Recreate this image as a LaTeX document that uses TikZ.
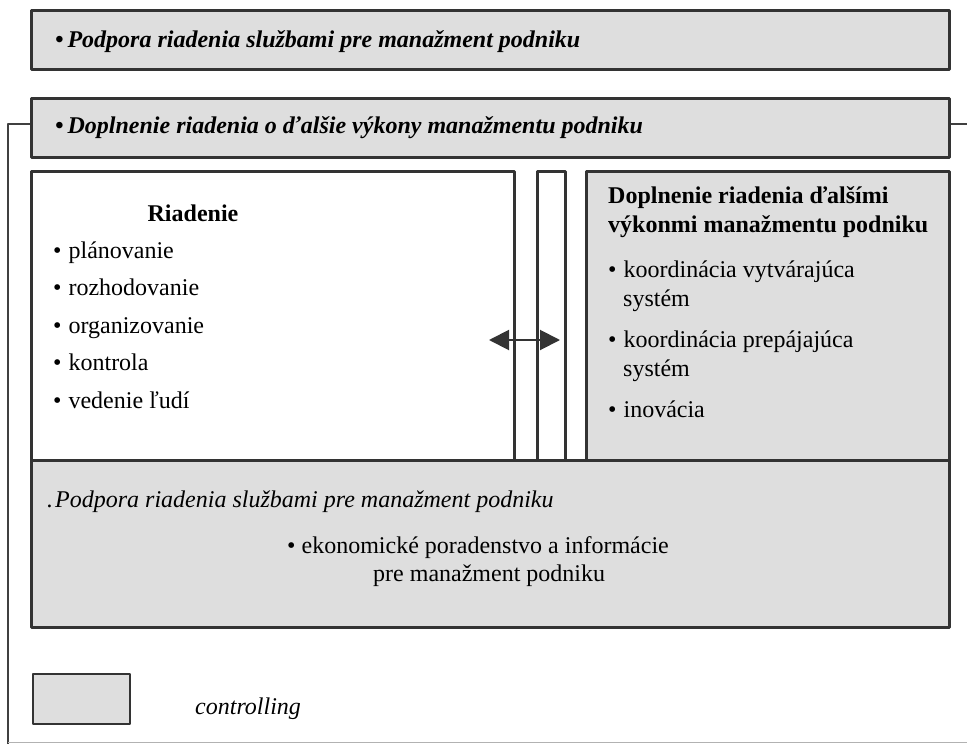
\documentclass[tikz,border=0pt]{standalone}
\usepackage{fontspec}
\setmainfont{Liberation Serif}
\usetikzlibrary{arrows.meta,positioning}
\begin{document}
\begin{tikzpicture}[x=1pt,y=-1pt,line join=round,font=\fontsize{24}{29}\selectfont,
    >={Triangle[length=20pt,width=20pt]},
    gbox/.style={draw=black!80,line width=2.6pt,fill=black!13,anchor=north west,inner sep=0pt},
    wbox/.style={gbox,fill=white},
    txt/.style={inner sep=0pt,anchor=base west},
    brace/.style={draw=black!75,line width=1.5pt}]
    \useasboundingbox (0,0) rectangle (967,744);
    \def\bul{\textbullet\kern7pt}
    \coordinate (dno) at (8,744);
    \coordinate (sipl) at (489,340); \coordinate (sipp) at (560,340);
    % boxes
    \node[gbox,minimum width=918pt,minimum height=59pt] (podpora) at (30,9) {};
    \node[gbox,minimum width=918pt,minimum height=59pt] (doplnenie) at (30,97) {};
    \draw[brace] ([yshift=4pt]doplnenie.west) -| (dno);
    \draw[brace] ([yshift=4pt]doplnenie.east) -- +(20,0);
    \draw[black!30,line width=.8pt] (dno) ++(0,-2) -- +(959,0);
    \node[wbox,minimum width=483pt,minimum height=289pt] (riadenie) at (30,170) {};
    \node[wbox,minimum width=28pt,minimum height=289pt] (stlpec) at (536,170) {};
    \node[gbox,minimum width=363pt,minimum height=289pt] (doplnky) at (585,170) {};
    \node[gbox,minimum width=918pt,minimum height=167pt] (sluzby) at (30,459) {};
    \node[gbox,line width=1.8pt,minimum width=97pt,minimum height=50pt] (legenda) at (32,673) {};
    \draw[<->,line width=2pt,black!80] (sipl) -- (sipp);
    % texts
    \node[txt,font=\fontsize{24}{29}\selectfont\bfseries\itshape] (t1) at (55,47)
        {\textbullet\kern4pt Podpora riadenia službami pre manažment podniku};
    \node[txt,font=\fontsize{24}{29}\selectfont\bfseries\itshape] (t2) at (55,133)
        {\textbullet\kern4pt Doplnenie riadenia o ďalšie výkony manažmentu podniku};
    \node[anchor=base,inner sep=0pt,font=\fontsize{24}{29}\selectfont\bfseries] (nadpis) at (193,221) {Riadenie};
    \foreach \t [count=\i from 0] in {plánovanie,rozhodovanie,organizovanie,kontrola,vedenie ľudí}
        \node[txt] (r\i) at (53,{258+37.5*\i}) {\bul\t};
    \node[txt,font=\fontsize{24}{29}\selectfont\bfseries] (d1) at (608,203) {Doplnenie riadenia ďalšími};
    \node[txt,font=\fontsize{24}{29}\selectfont\bfseries] (d2) at (608,232) {výkonmi manažmentu podniku};
    \node[txt] (k1) at (608,277) {\bul koordinácia vytvárajúca};
    \node[txt] (k1s) at (k1.base west) [xshift=15pt,yshift=-29pt] {systém};
    \node[txt] (k2) at (608,347) {\bul koordinácia prepájajúca};
    \node[txt] (k2s) at (k2.base west) [xshift=15pt,yshift=-29pt] {systém};
    \node[txt] (k3) at (608,417) {\bul inovácia};
    \node[txt,font=\fontsize{24}{29}\selectfont\itshape] (s0) at (47,507)
        {.\kern2pt Podpora riadenia službami pre manažment podniku};
    \node[txt] (e1) at (287,553) {\textbullet\kern6pt ekonomické poradenstvo a informácie};
    \node[txt] (e2) at (373,581) {pre manažment podniku};
    \node[txt,font=\fontsize{24}{29}\selectfont\itshape] (ctrl) at (195,714) {controlling};
\end{tikzpicture}
\end{document}
